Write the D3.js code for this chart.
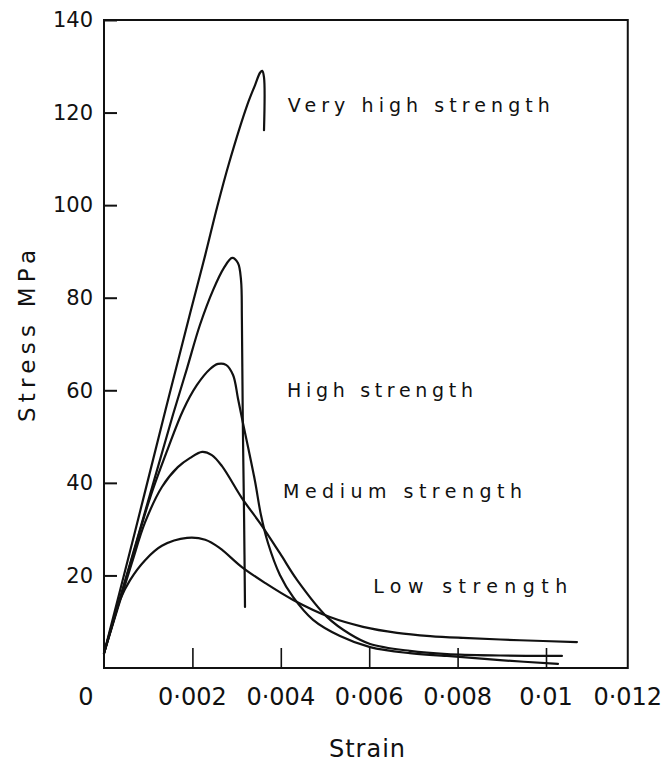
<!DOCTYPE html>
<html>
<head>
<meta charset="utf-8">
<script src="https://cdn.jsdelivr.net/npm/d3@7"></script>
<style>
  body { margin: 0; background: #fff; }
  text { font-family: "DejaVu Sans", sans-serif; fill: #111; }
</style>
</head>
<body>
<div id="chart"></div>
<script>
// stress (MPa) against strain
var veryHighStrength = [
  [0, 3.2], [0.00070, 29.4], [0.00138, 55.3], [0.00195, 76.7], [0.00229, 89.2],
  [0.00256, 99.6], [0.00283, 109.1], [0.00324, 121.6], [0.00342, 126.0],
  [0.00353, 128.6], [0.00358, 129.0], [0.00362, 127.6], [0.00362, 116.2]
];
var highStrengthUpper = [
  [0, 3.2], [0.00081, 29.8], [0.00156, 54.7], [0.00188, 64.8], [0.00217, 74.1],
  [0.00247, 81.7], [0.00271, 86.4], [0.00290, 88.6], [0.00303, 87.5],
  [0.00310, 83.8], [0.00312, 75.2], [0.00314, 53.6], [0.00317, 32], [0.00319, 13.2]
];
var highStrength = [
  [0, 3.2], [0.00059, 22.3], [0.00104, 36.7], [0.00145, 47.5], [0.00179, 55.7],
  [0.00210, 61.1], [0.00240, 64.6], [0.00258, 65.7], [0.00276, 65.5],
  [0.00292, 63.3], [0.00303, 58.3], [0.00314, 53.1], [0.00326, 47.7],
  [0.00342, 40.2], [0.00355, 33.1], [0.00371, 27.0], [0.00398, 20.1],
  [0.00428, 15.3], [0.00473, 10.4], [0.00534, 6.9], [0.00602, 4.5],
  [0.00692, 3.2], [0.00776, 2.6], [0.00896, 1.7], [0.01027, 0.9]
];
var mediumStrength = [
  [0, 3.2], [0.00032, 13.2], [0.00063, 22.7], [0.00093, 31.5], [0.00131, 39.1],
  [0.00167, 43.4], [0.00195, 45.4], [0.00222, 46.7], [0.00244, 46.0],
  [0.00267, 43.6], [0.00312, 36.7], [0.00353, 31.3], [0.00398, 24.8],
  [0.00437, 19.0], [0.00505, 11.0], [0.00557, 7.3], [0.00602, 5.2],
  [0.00692, 3.7], [0.00776, 3.0], [0.00896, 2.7], [0.01036, 2.6]
];
var lowStrength = [
  [0, 3.2], [0.00018, 9.3], [0.00036, 14.7], [0.00059, 19.0], [0.00093, 23.3],
  [0.00131, 26.4], [0.00188, 28.1], [0.00229, 27.7], [0.00262, 25.9],
  [0.00312, 21.8], [0.00364, 18.4], [0.00428, 14.7], [0.00511, 11.0],
  [0.00586, 8.9], [0.00663, 7.6], [0.00738, 6.9], [0.00812, 6.5],
  [0.00941, 6.0], [0.01070, 5.6]
];

var curves = [veryHighStrength, highStrengthUpper, highStrength, mediumStrength, lowStrength];

// curve names written in the plot: [text, strain, stress]
var curveNames = [
  ["Very high strength", 0.00416, 120.1],
  ["High strength", 0.00414, 58.5],
  ["Medium strength", 0.00405, 36.7],
  ["Low strength", 0.00609, 16.2]
];
var nameWidths = [262, 186, 239, 194];

var strainTicks = [0.002, 0.004, 0.006, 0.008, 0.01];
var strainLabels = [0, 0.002, 0.004, 0.006, 0.008, 0.01, 0.012];
var strainLabelText = ["0", "0·002", "0·004", "0·006", "0·008", "0·01", "0·012"];
var stressTicks = [20, 40, 60, 80, 100, 120, 140];

var width = 667, height = 762;
var strainMax = 0.01185;

var x = d3.scaleLinear().domain([0, 0.01]).range([104, 546]);
var y = d3.scaleLinear().domain([0, 140]).range([668, 20]);

var svg = d3.select("#chart").append("svg")
    .attr("width", width)
    .attr("height", height);

// the box round the plot
svg.append("rect")
    .attr("x", x(0))
    .attr("y", y(140))
    .attr("width", x(strainMax) - x(0))
    .attr("height", y(0) - y(140))
    .attr("fill", "none")
    .attr("stroke", "#111")
    .attr("stroke-width", 2);

// Y ticks point inwards
var yAxis = svg.append("g")
    .attr("transform", "translate(" + x(0) + ",0)")
    .call(d3.axisLeft(y).tickValues(stressTicks).tickSizeInner(-13).tickSizeOuter(0).tickPadding(11));
yAxis.select(".domain").remove();
yAxis.selectAll("line").attr("stroke", "#111").attr("stroke-width", 2);
yAxis.selectAll("text")
    .style("font-family", "DejaVu Sans, sans-serif")
    .style("font-size", "21px")
    .attr("fill", "#111");

// X ticks point inwards too, labels drawn separately
var xAxis = svg.append("g")
    .attr("transform", "translate(0," + y(0) + ")")
    .call(d3.axisBottom(x).tickValues(strainTicks).tickSizeInner(-20).tickSizeOuter(0).tickFormat(""));
xAxis.select(".domain").remove();
xAxis.selectAll("line").attr("stroke", "#111").attr("stroke-width", 1.6);

svg.append("g").selectAll("text")
    .data(strainLabels)
    .enter().append("text")
    .attr("x", (d, i) => d === 0 ? x(d) - 18 : Math.min(x(d), x(strainMax)))
    .attr("y", y(0) + 37)
    .attr("text-anchor", "middle")
    .style("font-size", "24px")
    .text((d, i) => strainLabelText[i]);

// the curves
var line = d3.line()
    .x(d => x(d[0]))
    .y(d => y(d[1]))
    .curve(d3.curveCatmullRom.alpha(0.5));

svg.append("g").selectAll("path")
    .data(curves)
    .enter().append("path")
    .attr("d", line)
    .attr("fill", "none")
    .attr("stroke", "#111")
    .attr("stroke-width", 2.2)
    .attr("stroke-linejoin", "round")
    .attr("stroke-linecap", "round");

svg.append("g").selectAll("text")
    .data(curveNames)
    .enter().append("text")
    .attr("x", d => x(d[1]))
    .attr("y", d => y(d[2]))
    .attr("textLength", (d, i) => nameWidths[i])
    .attr("lengthAdjust", "spacing")
    .style("font-size", "19px")
    .text(d => d[0]);

// axis titles
svg.append("text")
    .attr("x", 367)
    .attr("y", 757)
    .attr("text-anchor", "middle")
    .attr("textLength", 76)
    .attr("lengthAdjust", "spacing")
    .style("font-size", "24px")
    .text("Strain");

svg.append("text")
    .attr("transform", "translate(35,336) rotate(-90)")
    .attr("text-anchor", "middle")
    .attr("textLength", 172)
    .attr("lengthAdjust", "spacing")
    .style("font-size", "23px")
    .text("Stress MPa");
</script>
</body>
</html>
